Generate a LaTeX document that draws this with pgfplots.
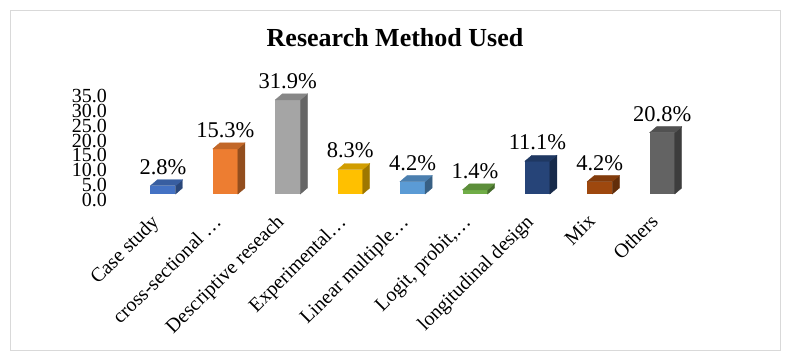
\documentclass[border=0pt]{standalone}
\usepackage{pgfplots}
\pgfplotsset{compat=1.18}
\usepackage{fontspec}
\setmainfont{Liberation Serif}

\definecolor{c1}{HTML}{4472C4}
\definecolor{c2}{HTML}{ED7D31}
\definecolor{c3}{HTML}{A5A5A5}
\definecolor{c4}{HTML}{FFC000}
\definecolor{c5}{HTML}{5B9BD5}
\definecolor{c6}{HTML}{70AD47}
\definecolor{c7}{HTML}{264478}
\definecolor{c8}{HTML}{9E480E}
\definecolor{c9}{HTML}{636363}
\definecolor{framegray}{HTML}{D9D9D9}

\pgfdeclareplotmark{empty3d}{}

\pgfplotsset{
  bar3d/.style={
    ybar, bar width=25pt, bar shift=0pt, fill=#1, draw=none,
    nodes near coords={\pgfmathprintnumber[fixed,fixed zerofill,precision=1]{\pgfplotspointmeta}\%},
    nodes near coords style={font=\fontsize{22.5}{24}\selectfont, anchor=south, inner sep=0pt, yshift=11pt, text=black},
  },
  faces3d/.style={
    only marks, scatter, mark=empty3d,
    visualization depends on={rawy \as \rawy},
    scatter/@pre marker code/.code={%
      \fill[#1!62!black] (12.5pt,0pt) -- (19.5pt,6pt) -- (19.5pt,{6pt-\rawy*2.95pt}) -- (12.5pt,{-\rawy*2.95pt}) -- cycle;
      \fill[#1!82!black] (-12.5pt,0pt) -- (-5.5pt,6pt) -- (19.5pt,6pt) -- (12.5pt,0pt) -- cycle;
    },
    scatter/@post marker code/.code={},
  },
}

\begin{document}
\begin{tikzpicture}
\path (-131.8pt,-164pt) rectangle (662.2pt,194pt);
\draw[framegray, line width=0.8pt] (-121.8pt,-156pt) rectangle (648.2pt,184pt);
\begin{axis}[
  at={(0,0)}, anchor=south west,
  x=62.4pt, y=2.95pt,
  xmin=-0.5, xmax=8.5, ymin=0, ymax=35,
  clip=false,
  axis line style={draw=none},
  tick style={draw=none},
  major tick length=0pt,
  /pgf/number format/assume math mode=true,
  xtick={0,1,2,3,4,5,6,7,8},
  xticklabels={Case study, cross-sectional …, Descriptive reseach, Experimental…, Linear multiple…, {Logit, probit,…}, longitudinal design, Mix, Others},
  xticklabel style={xshift=-13pt, yshift=-19pt, rotate=45, anchor=north east, inner sep=0pt, font=\fontsize{20}{22}\selectfont},
  ytick={0,5,...,35},
  yticklabel={\pgfmathprintnumber[fixed,fixed zerofill,precision=1]{\tick}},
  yticklabel style={anchor=east, inner sep=0pt, font=\fontsize{20}{22}\selectfont, xshift=-24.8pt, yshift=-5.5pt},
  title={Research Method Used},
  title style={font=\bfseries\fontsize{26}{28}\selectfont, at={(0.4687,1.453)}, anchor=center},
]
\addplot[bar3d=c1] coordinates {(0,2.8)};
\addplot[faces3d=c1] coordinates {(0,2.8)};
\addplot[bar3d=c2] coordinates {(1,15.3)};
\addplot[faces3d=c2] coordinates {(1,15.3)};
\addplot[bar3d=c3] coordinates {(2,31.9)};
\addplot[faces3d=c3] coordinates {(2,31.9)};
\addplot[bar3d=c4] coordinates {(3,8.3)};
\addplot[faces3d=c4] coordinates {(3,8.3)};
\addplot[bar3d=c5] coordinates {(4,4.2)};
\addplot[faces3d=c5] coordinates {(4,4.2)};
\addplot[bar3d=c6] coordinates {(5,1.4)};
\addplot[faces3d=c6] coordinates {(5,1.4)};
\addplot[bar3d=c7] coordinates {(6,11.1)};
\addplot[faces3d=c7] coordinates {(6,11.1)};
\addplot[bar3d=c8] coordinates {(7,4.2)};
\addplot[faces3d=c8] coordinates {(7,4.2)};
\addplot[bar3d=c9] coordinates {(8,20.8)};
\addplot[faces3d=c9] coordinates {(8,20.8)};
\end{axis}
\end{tikzpicture}
\end{document}
